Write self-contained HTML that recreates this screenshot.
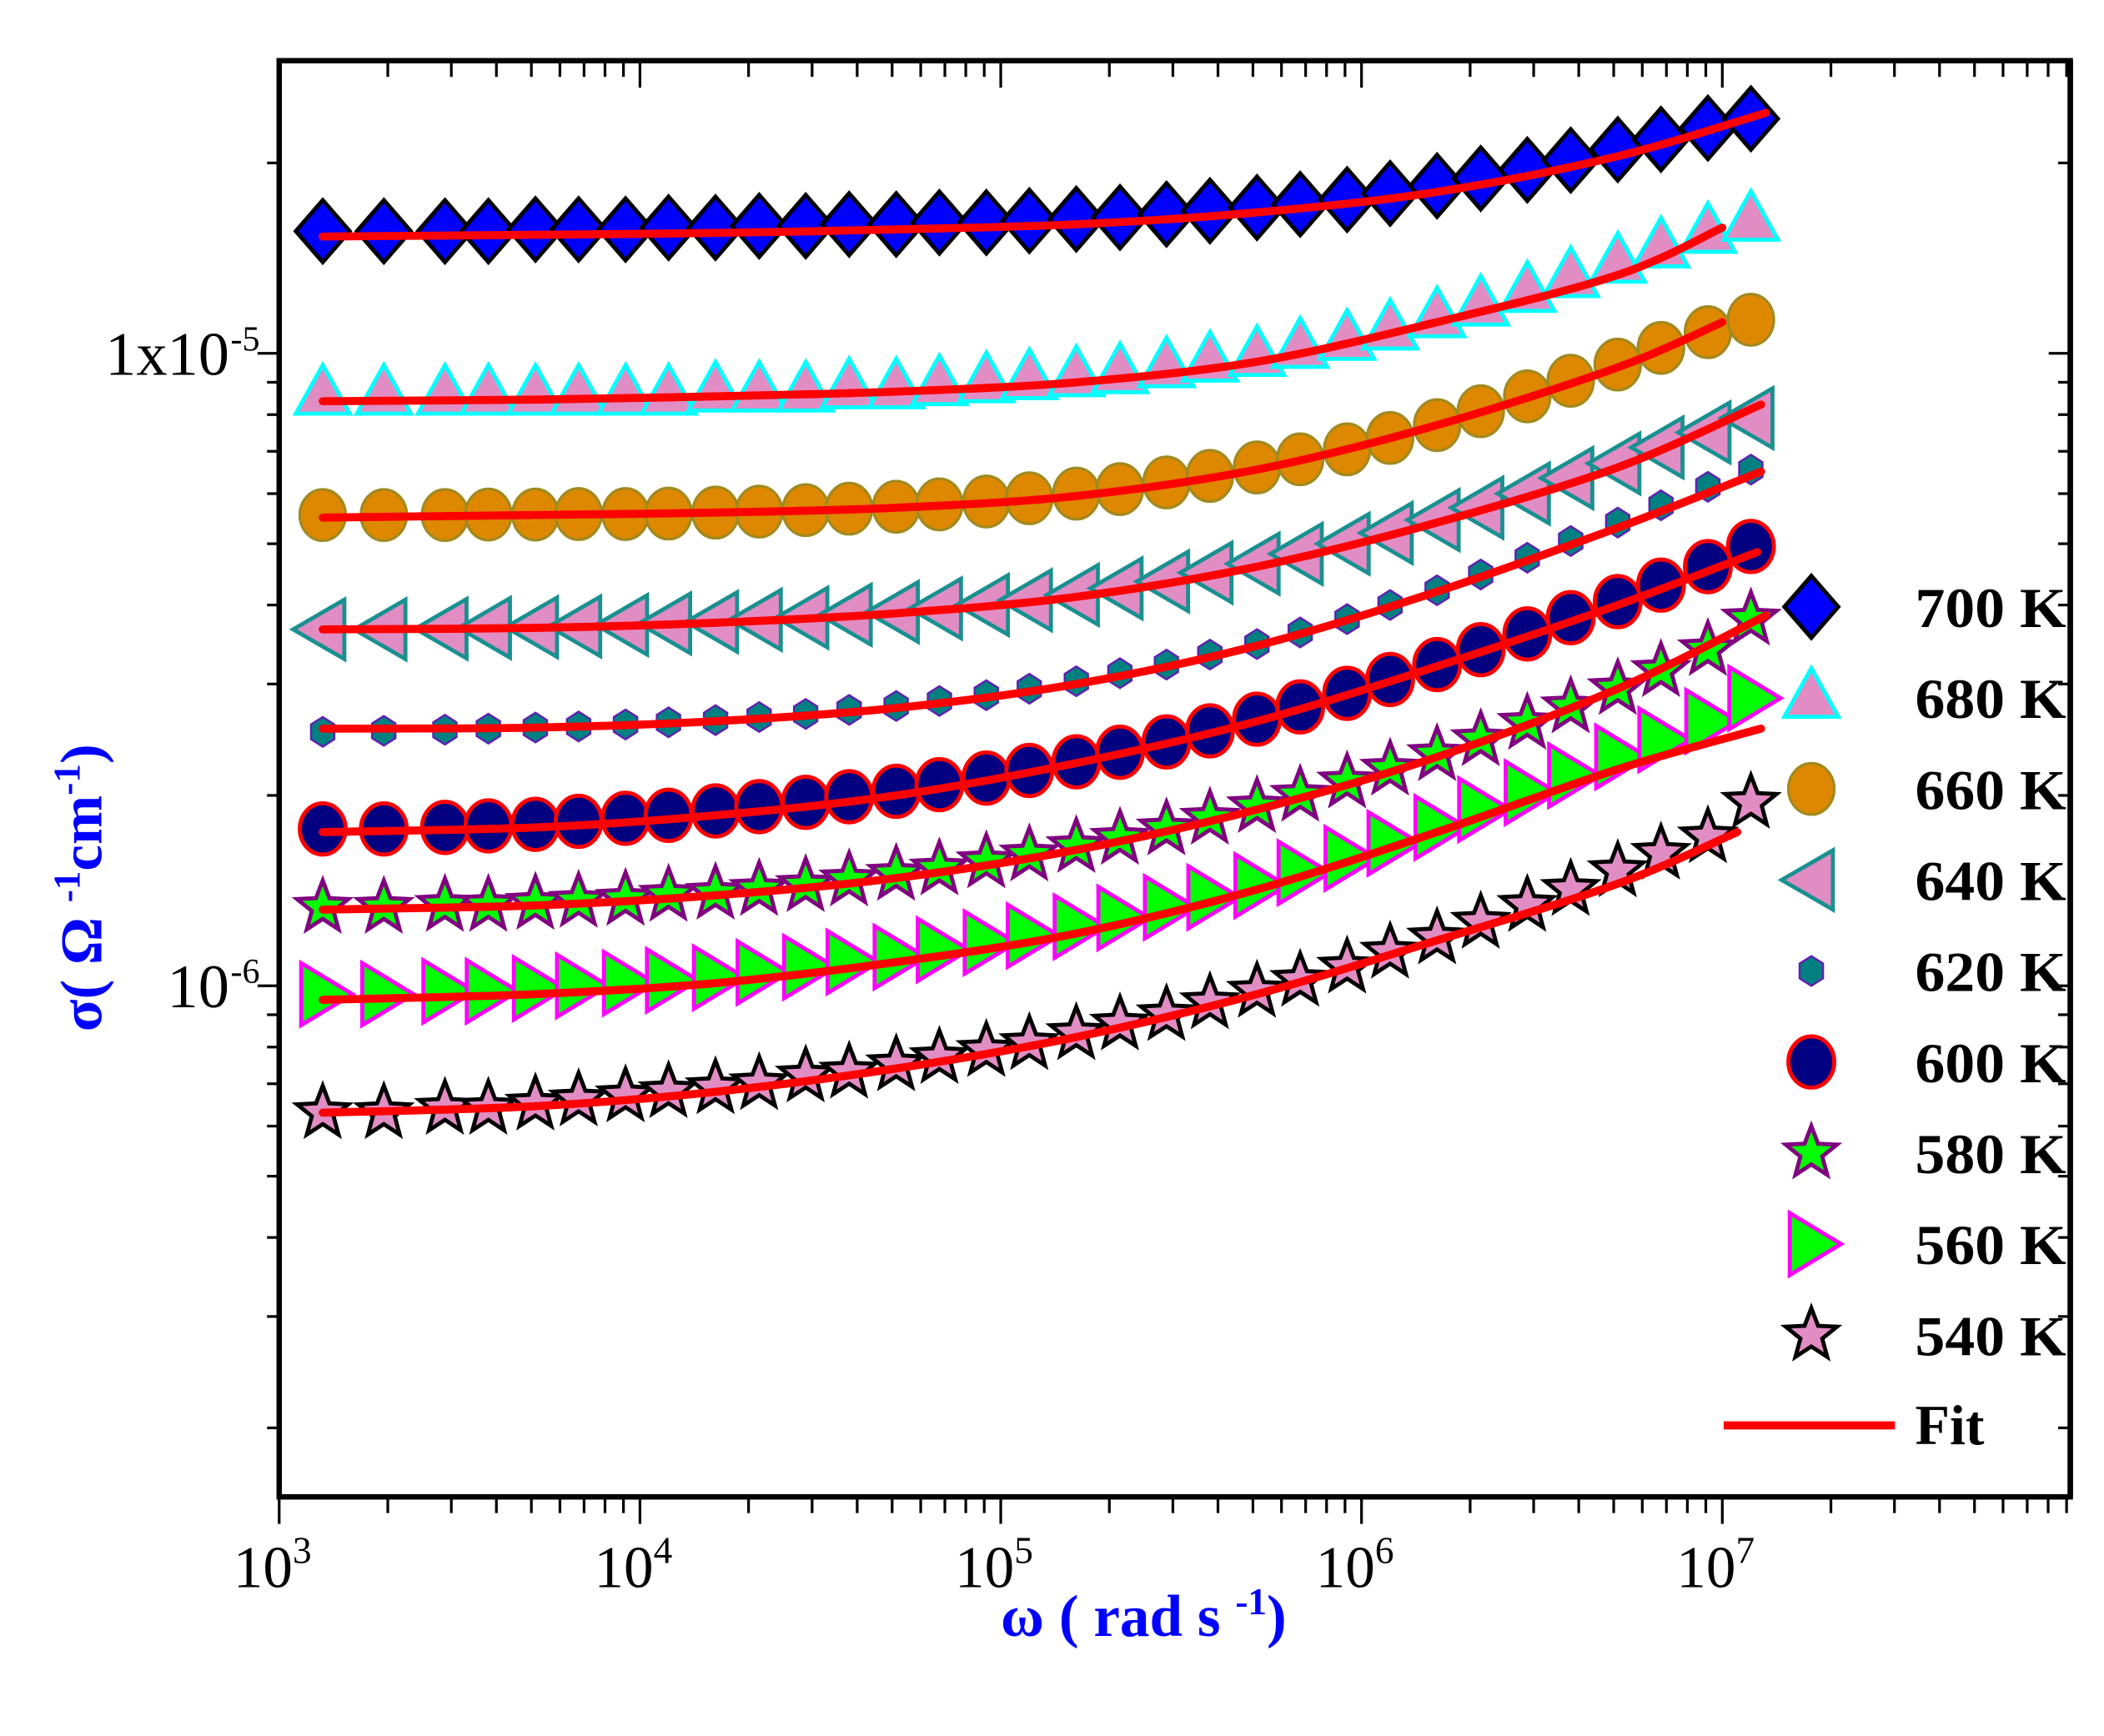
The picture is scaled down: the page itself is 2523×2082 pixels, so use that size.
<!DOCTYPE html>
<html><head><meta charset="utf-8">
<style>
html,body{margin:0;padding:0;background:#fff;}
svg{display:block;}
text{font-family:"Liberation Serif",serif;}
</style></head>
<body>
<svg id="chart" xmlns="http://www.w3.org/2000/svg" width="2523" height="2082" viewBox="0 0 1560 1287.3"></svg>
<script>
// ---- data ----
const omega = [1320,1950,2880,3800,5130,6760,9120,12000,16200,21400,28800,38000,51300,67600,91200,120000,162000,214000,288000,380000,513000,676000,912000,1200000,1620000,2140000,2880000,3800000,5130000,6760000,9120000,12000000];
const temps = ["700 K","680 K","660 K","640 K","620 K","600 K","580 K","560 K","540 K"];
const s700 = [1.56,1.56,1.56,1.56,1.57,1.57,1.57,1.58,1.58,1.59,1.59,1.60,1.60,1.61,1.61,1.62,1.63,1.64,1.66,1.68,1.70,1.72,1.75,1.79,1.84,1.89,1.95,2.02,2.10,2.18,2.27,2.35].map(v=>v*1e-5);
const s680 = [8.6,8.6,8.6,8.6,8.6,8.6,8.6,8.6,8.7,8.7,8.7,8.8,8.8,8.9,9.0,9.1,9.2,9.3,9.5,9.7,9.9,10.2,10.5,10.9,11.4,11.9,12.5,13.2,13.9,14.7,15.5,16.2].map(v=>v*1e-6);
const s660 = [5.55,5.55,5.55,5.56,5.56,5.57,5.57,5.58,5.6,5.62,5.65,5.68,5.72,5.77,5.83,5.9,6.0,6.1,6.25,6.4,6.6,6.8,7.05,7.35,7.7,8.1,8.55,9.05,9.6,10.2,10.8,11.3].map(v=>v*1e-6);
const s640 = [3.66,3.66,3.67,3.68,3.69,3.7,3.72,3.74,3.76,3.79,3.82,3.86,3.9,3.95,4.0,4.07,4.15,4.25,4.36,4.5,4.65,4.82,5.0,5.2,5.45,5.7,6.0,6.35,6.7,7.1,7.5,7.9].map(v=>v*1e-6);
const s620 = [2.52,2.53,2.54,2.55,2.56,2.57,2.59,2.61,2.63,2.66,2.69,2.73,2.77,2.82,2.88,2.95,3.03,3.12,3.22,3.34,3.47,3.62,3.8,4.0,4.22,4.47,4.75,5.05,5.4,5.75,6.15,6.55].map(v=>v*1e-6);
const s600 = [1.77,1.77,1.78,1.79,1.8,1.82,1.84,1.86,1.89,1.92,1.95,1.99,2.03,2.08,2.13,2.19,2.26,2.34,2.43,2.53,2.64,2.76,2.9,3.05,3.22,3.4,3.6,3.82,4.05,4.3,4.6,4.95].map(v=>v*1e-6);
const s580 = [1.33,1.33,1.34,1.34,1.35,1.36,1.37,1.39,1.4,1.42,1.44,1.47,1.5,1.53,1.57,1.61,1.66,1.71,1.77,1.84,1.92,2.0,2.1,2.2,2.32,2.45,2.6,2.76,2.95,3.15,3.4,3.8].map(v=>v*1e-6);
const s560 = [0.97,0.97,0.98,0.98,0.99,1.0,1.01,1.02,1.03,1.05,1.07,1.09,1.11,1.14,1.17,1.2,1.24,1.28,1.33,1.38,1.44,1.51,1.59,1.68,1.78,1.9,2.02,2.15,2.3,2.45,2.62,2.85].map(v=>v*1e-6);
const s540 = [0.63,0.63,0.64,0.64,0.65,0.66,0.67,0.68,0.69,0.7,0.72,0.73,0.75,0.77,0.79,0.81,0.84,0.87,0.9,0.94,0.98,1.02,1.07,1.13,1.19,1.26,1.34,1.42,1.52,1.62,1.72,1.95].map(v=>v*1e-6);
const fitOmega = [1320,5130,16200,51300,162000,513000,1620000,5130000];
const fitEndOmega = [13200000,10000000,10000000,12800000,12800000,12500000,13200000,12800000,11000000];
const f700 = [1.53,1.54,1.55,1.57,1.60,1.67,1.80,2.05,2.40].map(v=>v*1e-5);
const f680 = [8.4,8.45,8.55,8.7,9.0,9.7,11.2,13.3,15.8].map(v=>v*1e-6);
const f660 = [5.5,5.55,5.6,5.7,5.95,6.55,7.7,9.5,11.2].map(v=>v*1e-6);
const f640 = [3.66,3.68,3.75,3.88,4.12,4.6,5.4,6.6,8.3].map(v=>v*1e-6);
const f620 = [2.55,2.56,2.62,2.75,3.0,3.45,4.2,5.3,6.5].map(v=>v*1e-6);
const f600 = [1.75,1.78,1.86,2.0,2.25,2.62,3.2,4.0,4.85].map(v=>v*1e-6);
const f580 = [1.32,1.34,1.39,1.48,1.64,1.9,2.3,2.95,3.85].map(v=>v*1e-6);
const f560 = [0.95,0.97,1.01,1.09,1.21,1.42,1.75,2.2,2.55].map(v=>v*1e-6);
const f540 = [0.63,0.645,0.68,0.74,0.83,0.97,1.18,1.45,1.75].map(v=>v*1e-6);
const xTickLabels = ["3","4","5","6","7"];

// ---- axes ----
const X0=207, X1=1535, Y0=45, Y1=1110;
const xDecade=267.5, yDecade=469;
function xs(w){return X0 + (Math.log10(w)-3)*xDecade;}
function ys(s){return 262 + (-5-Math.log10(s))*yDecade;}
const NS="http://www.w3.org/2000/svg";
const svg=document.getElementById('chart');
function el(tag,attrs,parent){const e=document.createElementNS(NS,tag);for(const k in attrs)e.setAttribute(k,attrs[k]);(parent||svg).appendChild(e);return e;}

const gAxes=el('g',{});


for(let d=3; d<=7; d++){
  for(let m=1;m<=9;m++){
    const x=xs(m*Math.pow(10,d)); if(x>X1+1) continue;
    const major=m===1;
    el('line',{x1:x,y1:Y1,x2:x,y2:Y1+(major?20:12),stroke:'#000','stroke-width':2},gAxes);
    el('line',{x1:x,y1:Y0,x2:x,y2:Y0+(major?20:12),stroke:'#000','stroke-width':2},gAxes);
  }
}
for(let d=-7; d<=-5; d++){
  for(let m=1;m<=9;m++){
    const y=ys(m*Math.pow(10,d)); if(y<Y0||y>Y1) continue;
    const major=m===1;
    el('line',{x1:X0,y1:y,x2:X0-(major?16:9),y2:y,stroke:'#000','stroke-width':2},gAxes);
    el('line',{x1:X1,y1:y,x2:X1-(major?16:9),y2:y,stroke:'#000','stroke-width':2},gAxes);
  }
}
const frame=el('rect',{x:X0,y:Y0,width:X1-X0,height:Y1-Y0,fill:'none',stroke:'#000','stroke-width':4},gAxes);



xTickLabels.forEach((p,i)=>{
  const x=xs(Math.pow(10,+p));
  const t=el('text',{x:x-5,y:1177,'font-size':44,'text-anchor':'middle'});
  
  
  t.textContent='10';
  const s=el('tspan',{dy:-18,'font-size':28},t); s.textContent=p;
});
const yl1=el('text',{x:170,y:278,'font-size':46,'text-anchor':'end'});


yl1.textContent='1x10';
const yl2=el('text',{x:170,y:747,'font-size':46,'text-anchor':'end'});


yl2.textContent='10';
[[171,262,'-5'],[171,731,'-6']].forEach(a=>{const t=el('text',{x:a[0],y:a[1]-2,'font-size':26});t.textContent=a[2];});

const xt=el('text',{x:742,y:1213,'font-size':44,'font-weight':'bold',fill:'#0000ff'});


xt.innerHTML='ω ( rad s <tspan dy="-16" font-size="28">-1</tspan><tspan dy="16">)</tspan>';
const yt=el('text',{x:0,y:0,'font-size':44,'font-weight':'bold',fill:'#0000ff',transform:'translate(75,765) rotate(-90)'});


yt.innerHTML='σ( Ω <tspan dy="-16" font-size="28">-1</tspan><tspan dy="16">cm</tspan><tspan dy="-16" font-size="28">-1</tspan><tspan dy="16">)</tspan>';

// ---- markers ----
function star(cx,cy,R,r){let p=[];for(let i=0;i<10;i++){const a=-Math.PI/2+i*Math.PI/5;const rr=i%2?r:R;p.push((cx+rr*Math.cos(a)).toFixed(1)+','+(cy+rr*Math.sin(a)).toFixed(1));}return p.join(' ');}
function poly(pts){return pts.map(p=>p[0].toFixed(1)+','+p[1].toFixed(1)).join(' ');}
const styles=[
  {shape:'diamond',fill:'#0000ff',stroke:'#000',sw:3},
  {shape:'up',fill:'#e28cc4',stroke:'#00ffff',sw:3},
  {shape:'circle',fill:'#dd8800',stroke:'#a08a20',sw:2},
  {shape:'left',fill:'#e28cc4',stroke:'#1a9090',sw:3},
  {shape:'hex',fill:'#008080',stroke:'#6020b0',sw:1.5},
  {shape:'circle2',fill:'#000080',stroke:'#ff0000',sw:3},
  {shape:'star',fill:'#00ff00',stroke:'#800080',sw:3},
  {shape:'right',fill:'#00ff00',stroke:'#ff00ff',sw:3},
  {shape:'star',fill:'#e28cc4',stroke:'#000',sw:3}
];
function marker(st,cx,cy,parent){
  let e;
  switch(st.shape){
    case 'diamond': e=el('polygon',{points:poly([[cx,cy-23],[cx+20,cy],[cx,cy+23],[cx-20,cy]])},parent);break;
    case 'up': e=el('polygon',{points:poly([[cx,cy-22],[cx+20,cy+14],[cx-20,cy+14]])},parent);break;
    case 'left': e=el('polygon',{points:poly([[cx-22,cy],[cx+16,cy-22],[cx+16,cy+22]])},parent);break;
    case 'right': e=el('polygon',{points:poly([[cx+22,cy],[cx-16,cy-23],[cx-16,cy+23]])},parent);break;
    case 'circle': e=el('ellipse',{cx:cx,cy:cy,rx:17,ry:19},parent);break;
    case 'circle2': e=el('ellipse',{cx:cx,cy:cy,rx:17,ry:19},parent);break;
    case 'hex': {let p=[];for(let i=0;i<6;i++){const a=Math.PI/6+i*Math.PI/3;p.push([cx+10*Math.cos(a),cy+11*Math.sin(a)]);}e=el('polygon',{points:poly(p)},parent);break;}
    case 'star': e=el('polygon',{points:star(cx,cy,20,8.5)},parent);break;
  }
  e.setAttribute('fill',st.fill);e.setAttribute('stroke',st.stroke);e.setAttribute('stroke-width',st.sw);e.setAttribute('stroke-linejoin','miter');
  return e;
}
const series=[s700,s680,s660,s640,s620,s600,s580,s560,s540];
const fits=[f700,f680,f660,f640,f620,f600,f580,f560,f540];
function smoothPath(pts){
  let d='M'+pts[0][0].toFixed(1)+','+pts[0][1].toFixed(1);
  for(let i=0;i<pts.length-1;i++){
    const p0=pts[Math.max(0,i-1)],p1=pts[i],p2=pts[i+1],p3=pts[Math.min(pts.length-1,i+2)];
    const c1=[p1[0]+(p2[0]-p0[0])/6,p1[1]+(p2[1]-p0[1])/6],c2=[p2[0]-(p3[0]-p1[0])/6,p2[1]-(p3[1]-p1[1])/6];
    d+=' C'+c1[0].toFixed(1)+','+c1[1].toFixed(1)+' '+c2[0].toFixed(1)+','+c2[1].toFixed(1)+' '+p2[0].toFixed(1)+','+p2[1].toFixed(1);
  }
  return d;
}
for(let k=series.length-1;k>=0;k--){
  const g=el('g',{});
  
  
  series[k].forEach((v,i)=>{
    const m=marker(styles[k],xs(omega[i]),ys(v),g);
    
    
  });
  const pts=fitOmega.map((w,i)=>[xs(w),ys(fits[k][i])]);
  pts.push([xs(fitEndOmega[k]),ys(fits[k][fits[k].length-1])]);
  const fl=el('path',{d:smoothPath(pts),fill:'none',stroke:'#ff0000','stroke-width':6,'stroke-linecap':'round'},g);
  
  
}

// ---- legend ----
const lg=el('g',{});


temps.forEach((t,i)=>{
  const y=450+i*67.5;
  const e=el('g',{},lg);
  
  
  marker(styles[i],1343,y,e);
  const tx=el('text',{x:1420,y:y+15,'font-size':42,'font-weight':'bold','textLength':112,'lengthAdjust':'spacingAndGlyphs'},e);
  tx.textContent=t;
});
const fe=el('g',{},lg);


el('line',{x1:1278,y1:1057,x2:1405,y2:1057,stroke:'#ff0000','stroke-width':6},fe);
const ft=el('text',{x:1420,y:1071,'font-size':42,'font-weight':'bold'},fe);
ft.textContent='Fit';
el('line',{x1:X1,y1:Y0,x2:X1,y2:Y1,stroke:'#000','stroke-width':4});
</script>
</body></html>
